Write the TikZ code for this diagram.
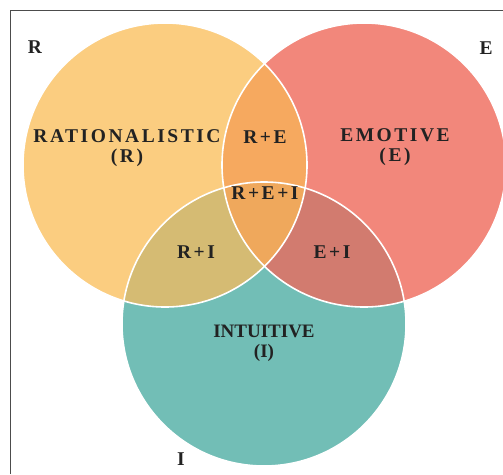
\documentclass[tikz,border=0pt]{standalone}
\usepackage{fontspec}
\setmainfont{Liberation Serif}
\newfontfamily\widefont[LetterSpace=13]{Liberation Serif}
\definecolor{ratcol}{HTML}{FBCD80}
\definecolor{emocol}{HTML}{F2877B}
\definecolor{intcol}{HTML}{72BEB6}
\definecolor{recol}{HTML}{F6A95F}
\definecolor{ricol}{HTML}{D5BB73}
\definecolor{eicol}{HTML}{D27B6F}
\definecolor{reicol}{HTML}{EFA85C}
\definecolor{txtcol}{HTML}{222222}
\begin{document}
\begin{tikzpicture}[x=1pt,y=-1pt,
	lab/.style={text=txtcol, align=center, inner sep=0pt, font=\widefont\bfseries\fontsize{19.5}{20}\selectfont}]
	\useasboundingbox (0,0) rectangle (503,474);
	\draw[gray!60!black, line width=0.8pt] (10,474) -- (10,10) -- (503,10);
	% circle centres
	\coordinate (cR) at (165,165);
	\coordinate (cE) at (364,165);
	\coordinate (cI) at (264,324);
	\fill[ratcol] (cR) circle (142pt);
	\fill[emocol] (cE) circle (142pt);
	\fill[intcol] (cI) circle (142pt);
	% overlaps
	\begin{scope}
		\clip (cR) circle (142pt);
		\fill[recol] (cE) circle (142pt);
		\fill[ricol] (cI) circle (142pt);
	\end{scope}
	\begin{scope}
		\clip (cE) circle (142pt);
		\fill[eicol] (cI) circle (142pt);
	\end{scope}
	\begin{scope}
		\clip (cR) circle (142pt);
		\clip (cE) circle (142pt);
		\fill[reicol] (cI) circle (142pt);
	\end{scope}
	\draw[white, line width=1.6pt] (cR) circle (142pt);
	\draw[white, line width=1.6pt] (cE) circle (142pt);
	\draw[white, line width=1.6pt] (cI) circle (142pt);
	% labels
	\node[lab] (rat) at (127,148) {RATIONALISTIC\\(R)};
	\node[lab] (emo) at (395,147) {EMOTIVE\\(E)};
	\node[lab, font=\bfseries\fontsize{19}{20}\selectfont] (int) at (264,343) {INTUITIVE\\(I)};
	\node[lab] (re) at (265,137) {R+E};
	\node[lab] (rei) at (265,193) {R+E+I};
	\node[lab] (ri) at (196,252) {R+I};
	\node[lab] (ei) at (332,252) {E+I};
	\node[lab] (tagR) at (35,47) {R};
	\node[lab] (tagE) at (486,48) {E};
	\node[lab] (tagI) at (181,459) {I};
\end{tikzpicture}
\end{document}
